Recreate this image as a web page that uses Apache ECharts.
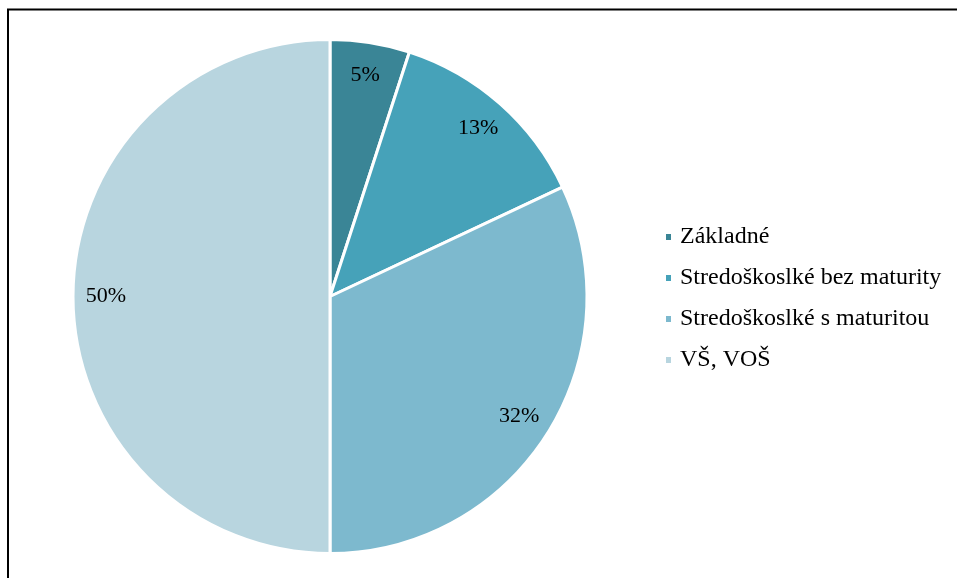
<!DOCTYPE html>
<html>
<head>
<meta charset="utf-8">
<script src="https://cdn.jsdelivr.net/npm/echarts@6/dist/echarts.min.js"></script>
<style>
  html, body { margin: 0; padding: 0; background: #fff; }
  #chart { width: 957px; height: 578px; }
</style>
</head>
<body>
<div id="chart"></div>
<script>
// data
const categories = ["Základné", "Stredoškoslké bez maturity", "Stredoškoslké s maturitou", "VŠ, VOŠ"];
const values = [5, 13, 32, 50];
const colors = ["#3a8596", "#46a2b9", "#7db9ce", "#b8d5df"];

const pieData = categories.map((name, i) => ({ name: name, value: values[i] }));

const chart = echarts.init(document.getElementById("chart"));
chart.setOption({
  animation: false,
  color: colors,
  textStyle: { fontFamily: "Liberation Serif" },
  graphic: [
    {
      type: "rect",
      shape: { x: 8, y: 9.5, width: 1000, height: 1000 },
      style: { fill: null, stroke: "#000", lineWidth: 2 },
      silent: true,
      z: -10
    }
  ],
  legend: {
    orient: "vertical",
    left: 659,
    top: 220,
    itemWidth: 7,
    itemHeight: 8,
    itemGap: 17,
    icon: "rect",
    selectedMode: false,
    textStyle: { fontFamily: "Liberation Serif", fontSize: 24, color: "#000", padding: [0, 0, 0, 3] },
    data: categories
  },
  series: [
    {
      type: "pie",
      center: [330, 296.5],
      radius: [0, 257],
      startAngle: 90,
      clockwise: true,
      silent: true,
      itemStyle: { borderColor: "#fff", borderWidth: 3 },
      label: { show: false },
      labelLine: { show: false },
      data: pieData
    },
    {
      // overlay only to place percentage labels near the rim
      type: "pie",
      center: [330, 296.5],
      radius: [185, 257],
      startAngle: 90,
      clockwise: true,
      silent: true,
      itemStyle: { color: "rgba(0,0,0,0)", borderWidth: 0 },
      label: {
        show: true,
        position: "inside",
        formatter: "{c}%",
        fontFamily: "Liberation Serif",
        fontSize: 22,
        color: "#000"
      },
      labelLine: { show: false },
      data: pieData
    }
  ]
});
</script>
</body>
</html>
